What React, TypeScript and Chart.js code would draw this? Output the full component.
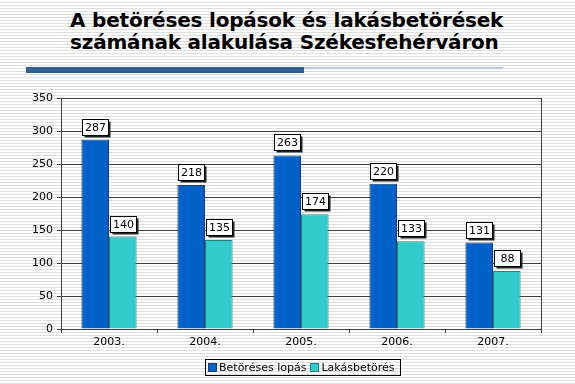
import React, { useEffect, useRef } from "react";
import { Chart, registerables } from "chart.js";

Chart.register(...registerables);

const categories = ["2003.", "2004.", "2005.", "2006.", "2007."];
const burglaryTheft = [287, 218, 263, 220, 131];
const homeBurglary = [140, 135, 174, 133, 88];
const seriesNames = ["Betöréses lopás", "Lakásbetörés"];
const titleLines = [
  "A betöréses lopások és lakásbetörések",
  "számának alakulása Székesfehérváron",
];

const DARK_BLUE = "#0062c8";
const TEAL = "#33cccc";
const FONT = "'DejaVu Sans', Verdana, sans-serif";

const labelBoxes = {
  id: "labelBoxes",
  afterDatasetsDraw(chart: any) {
    const ctx = chart.ctx;
    ctx.save();
    ctx.font = `11px ${FONT}`;
    ctx.textAlign = "center";
    ctx.textBaseline = "middle";
    chart.data.datasets.forEach((ds: any, di: number) => {
      const meta = chart.getDatasetMeta(di);
      meta.data.forEach((el: any, i: number) => {
        const txt = String(ds.data[i]);
        const w = 26;
        const h = 16;
        const x = Math.round(el.x - w / 2) + 0.5;
        const y = Math.round(el.y - 5 - h) + 0.5;
        ctx.fillStyle = "#222";
        ctx.fillRect(x + 2, y + 2, w, h);
        ctx.fillStyle = "#ffffff";
        ctx.fillRect(x, y, w, h);
        ctx.strokeStyle = "#000";
        ctx.lineWidth = 1;
        ctx.strokeRect(x, y, w, h);
        ctx.fillStyle = "#000";
        ctx.fillText(txt, x + w / 2, y + h / 2 + 1);
      });
    });
    ctx.restore();
  },
};

const plotBorder = {
  id: "plotBorder",
  beforeDatasetsDraw(chart: any) {
    const { ctx, chartArea } = chart;
    ctx.save();
    ctx.strokeStyle = "#404040";
    ctx.lineWidth = 1;
    ctx.beginPath();
    ctx.moveTo(Math.round(chartArea.right) + 0.5, chartArea.top);
    ctx.lineTo(Math.round(chartArea.right) + 0.5, chartArea.bottom);
    ctx.stroke();
    ctx.restore();
  },
};

export default function App() {
  const ref = useRef<HTMLCanvasElement>(null);

  useEffect(() => {
    if (!ref.current) return;
    const chart = new Chart(ref.current, {
      type: "bar",
      data: {
        labels: categories,
        datasets: [
          {
            label: seriesNames[0],
            data: burglaryTheft,
            backgroundColor: DARK_BLUE,
            borderColor: "#1c3b6e",
            borderWidth: 1,
            categoryPercentage: 0.575,
            barPercentage: 1,
          },
          {
            label: seriesNames[1],
            data: homeBurglary,
            backgroundColor: TEAL,
            borderColor: "#2a7f86",
            borderWidth: 1,
            categoryPercentage: 0.575,
            barPercentage: 1,
          },
        ],
      },
      options: {
        responsive: false,
        animation: false,
        devicePixelRatio: 1,
        layout: { padding: { left: 0, right: 34, top: 98, bottom: 0 } },
        plugins: {
          legend: { display: false },
          tooltip: { enabled: false },
          title: { display: false },
        },
        scales: {
          x: {
            offset: true,
            grid: {
              offset: true,
              drawOnChartArea: false,
              drawTicks: true,
              tickLength: 4,
              color: "#404040",
            },
            border: { display: true, color: "#404040" },
            ticks: {
              color: "#000",
              font: { family: FONT, size: 11 },
              padding: 3,
            },
            afterFit: (s: any) => {
              s.height = 55;
            },
          },
          y: {
            min: 0,
            max: 350,
            ticks: {
              stepSize: 50,
              color: "#000",
              font: { family: FONT, size: 11 },
              padding: 4,
            },
            grid: {
              color: "#404040",
              drawTicks: true,
              tickLength: 4,
            },
            border: { display: true, color: "#404040" },
            afterFit: (s: any) => {
              s.width = 61;
            },
          },
        },
      },
      plugins: [plotBorder, labelBoxes],
    });
    return () => chart.destroy();
  }, []);

  const swatch = (color: string, border: string) => ({
    display: "inline-block",
    width: 7,
    height: 7,
    background: color,
    border: `1px solid ${border}`,
    marginRight: 2,
    verticalAlign: "middle",
    position: "relative" as const,
    top: -1,
  });

  return (
    <div
      style={{
        position: "fixed",
        left: 0,
        top: 0,
        width: 575,
        height: 384,
        overflow: "hidden",
        background:
          "repeating-linear-gradient(to bottom, #ffffff 0px, #ffffff 2px, #dedede 2px, #dedede 3px)",
        fontFamily: FONT,
      }}
    >
      <div
        style={{
          position: "absolute",
          left: 70,
          top: 9,
          fontSize: 20,
          lineHeight: "22px",
          fontWeight: "bold",
          letterSpacing: "-0.2px",
          color: "#000",
          whiteSpace: "nowrap",
        }}
      >
        <div>{titleLines[0]}</div>
        <div>{titleLines[1]}</div>
      </div>
      <div
        style={{
          position: "absolute",
          left: 26,
          top: 67,
          width: 278,
          height: 6,
          background: "#2f6198",
        }}
      />
      <div
        style={{
          position: "absolute",
          left: 304,
          top: 67,
          width: 199,
          height: 2,
          background: "#b9c6d3",
        }}
      />
      <canvas
        ref={ref}
        width={575}
        height={384}
        style={{ position: "absolute", left: 0, top: 0, width: 575, height: 384 }}
      />
      <div
        style={{
          position: "absolute",
          left: 205,
          top: 359,
          width: 192,
          height: 15,
          border: "1px solid #000",
          fontSize: 11,
          lineHeight: "15px",
          color: "#000",
          whiteSpace: "nowrap",
          paddingLeft: 2,
          boxSizing: "content-box",
        }}
      >
        <span style={swatch(DARK_BLUE, "#1c3b6e")} />
        <span>{seriesNames[0]}</span>
        <span style={{ ...swatch(TEAL, "#2a7f86"), marginLeft: 4 }} />
        <span>{seriesNames[1]}</span>
      </div>
    </div>
  );
}
